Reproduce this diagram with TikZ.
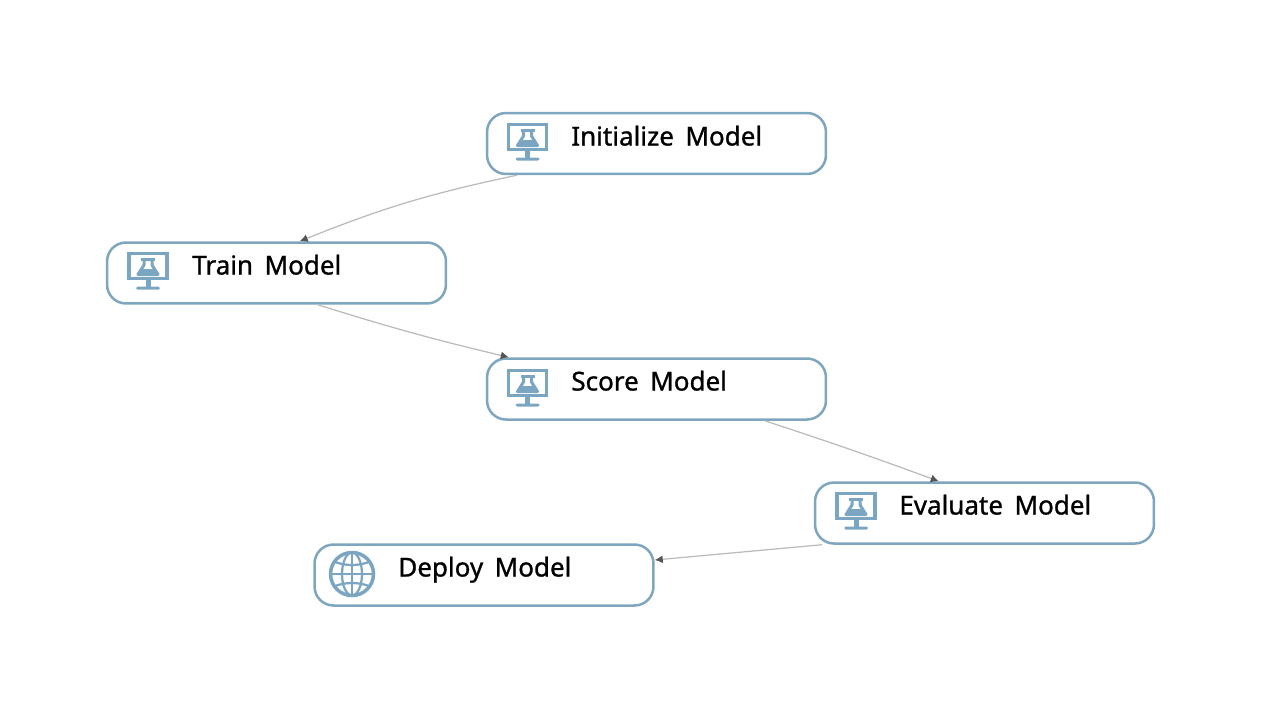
\documentclass[tikz,border=0pt]{standalone}
\usepackage{fontspec}
\setmainfont[FakeBold=1, WordSpace=1.7]{Noto Sans}
\usepackage{xcolor}
\usetikzlibrary{arrows,arrows.meta,calc}
\definecolor{boxblue}{HTML}{7FA6BF}
\definecolor{iconblue}{HTML}{7BA6C1}
\definecolor{linegray}{HTML}{BBBBBB}
\definecolor{tipgray}{HTML}{555555}
\tikzstyle{modelbox}=[draw=boxblue, line width=.05cm, rounded corners=.38cm, minimum width=6.78cm, minimum height=1.22cm, fill=white]
\tikzstyle{modeltext}=[anchor=base west, inner sep=0pt, font=\fontsize{14.8}{16}\selectfont, text=black]
\tikzstyle{link}=[draw=linegray, line width=.025cm, -{Latex[length=.16cm,width=.16cm,color=tipgray]}]
\newcommand{\monitoricon}[1]{
 \begin{scope}[shift={#1}]
 \draw[iconblue, line width=.07cm] (-19,-17.5) rectangle (19,7.5);
 \fill[iconblue] (-2.5,8) rectangle (2.5,16);
 \fill[iconblue, rounded corners=.03cm] (-12,15.5) rectangle (12,18.5);
 % flask
 \draw[iconblue, line width=.06cm] (-7,-12) -- (7,-12);
 \draw[iconblue, line width=.06cm, line join=round] (-4,-12) -- (-4,-6) -- (-10,3.5) -- (10,3.5) -- (4,-6) -- (4,-12);
 \fill[iconblue] (-6.5,-2) -- (-10,3.5) -- (10,3.5) -- (6.5,-2) -- cycle;
 \end{scope}
}
\newcommand{\globeicon}[1]{
 \begin{scope}[shift={#1}]
 \draw[iconblue, line width=.07cm] (0,0) circle (.43cm);
 \draw[iconblue, line width=.045cm] (0,0) ellipse (.2cm and .43cm);
 \draw[iconblue, line width=.045cm] (0,-21) -- (0,21);
 \draw[iconblue, line width=.045cm] (-21,0) -- (21,0);
 \draw[iconblue, line width=.045cm] (-17,-12) .. controls (-6,-8) and (6,-8) .. (17,-12);
 \draw[iconblue, line width=.045cm] (-17,12) .. controls (-6,8) and (6,8) .. (17,12);
 \end{scope}
}
\begin{document}
\begin{tikzpicture}[x=.02cm, y=-.02cm]
 \useasboundingbox (0,0) rectangle (1270,720);
%
 \node[modelbox] (init) at (656.5,143.5) {};
 \node[modelbox] (train) at (276.5,273) {};
 \node[modelbox] (score) at (656.5,389) {};
 \node[modelbox] (evaluate) at (984.5,513) {};
 \node[modelbox] (deploy) at (484,575) {};
%
 \monitoricon{(527.5,142)}
 \monitoricon{(148,271)}
 \monitoricon{(527.5,388)}
 \monitoricon{(856,511)}
 \globeicon{(352,574)}
%
 \node[modeltext] (inittext) at (571,145.5) {Initialize Model};
 \node[modeltext] (traintext) at (192,274.5) {Train Model};
 \node[modeltext] (scoretext) at (571,390.5) {Score Model};
 \node[modeltext] (evaluatetext) at (899,514.5) {Evaluate Model};
 \node[modeltext] (deploytext) at (398,576.5) {Deploy Model};
%
 \draw[link] ([xshift=.62cm]init.south west) to[bend right=5] ([xshift=3.88cm]train.north west);
 \draw[link] ([xshift=4.24cm]train.south west) to[bend right=2] ([xshift=.46cm]score.north west);
 \draw[link] ([xshift=5.58cm]score.south west) to[bend left=1] ([xshift=2.5cm]evaluate.north west);
 \draw[link] ([xshift=.16cm]evaluate.south west) -- ([yshift=.3cm]deploy.east);
\end{tikzpicture}
\end{document}
